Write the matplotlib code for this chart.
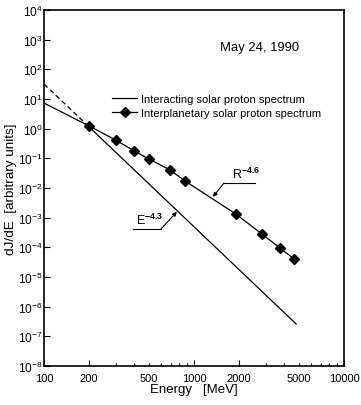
import matplotlib
matplotlib.use("Agg")
import matplotlib.pyplot as plt
from matplotlib.ticker import FixedLocator, FixedFormatter, NullFormatter

plt.rcParams['font.family'] = ['Liberation Sans', 'DejaVu Sans']
plt.rcParams['mathtext.fontset'] = 'custom'
plt.rcParams['mathtext.rm'] = 'Liberation Sans'
plt.rcParams['mathtext.it'] = 'Liberation Sans'
plt.rcParams['mathtext.bf'] = 'Liberation Sans:bold'

# Interplanetary solar proton spectrum (data points)
ip_energy = [200, 300, 400, 500, 690, 870, 1900, 2840, 3740, 4640]
ip_flux = [1.23, 0.416, 0.177, 0.095, 0.041, 0.0173, 1.33e-3, 2.8e-4, 9.5e-5, 4.1e-5]
# fitted curve through them (with extrapolated ends)
ip_line_energy = [100] + ip_energy + [4860]
ip_line_flux = [7.3] + ip_flux + [3.4e-5]

# Interacting solar proton spectrum, E^-4.3 power law
ia_energy_dashed = [100, 200]
ia_flux_dashed = [32, 1.14]
ia_energy_solid = [200, 4800]
ia_flux_solid = [1.14, 2.6e-7]

x_major = [100, 200, 1000, 2000, 10000]
x_minor = [300, 400, 500, 600, 700, 800, 900, 3000, 4000, 5000, 6000, 7000, 8000, 9000]
x_labels_pos = [100, 200, 500, 1000, 2000, 5000, 10000]
x_labels = ['100', '200', '500', '1000', '2000', '5000', '10000']
y_exps = list(range(-8, 5))

fig = plt.figure(figsize=(3.61, 4.06), dpi=100)
ax = fig.add_axes([44/361, 1-367/406, 300/361, 356/406])
ax.set_xscale('log')
ax.set_yscale('log')
ax.set_xlim(100, 10000)
ax.set_ylim(1e-8, 1e4)

lw = 0.9
ax.plot(ia_energy_dashed, ia_flux_dashed, color='black', lw=lw, ls=(0, (4, 2.5)))
ax.plot(ia_energy_solid, ia_flux_solid, color='black', lw=lw,
        label='Interacting solar proton spectrum')
ax.plot(ip_line_energy, ip_line_flux, color='black', lw=lw)
ax.plot(ip_energy, ip_flux, ls='none', marker='D', ms=5.2, color='black')
ax.plot([], [], color='black', lw=lw, marker='D', ms=5.2,
        label='Interplanetary solar proton spectrum')

ax.legend(loc='upper left', bbox_to_anchor=(0.228, 0.765), frameon=False,
          fontsize=8.0, handlelength=2.2, handletextpad=0.35, labelspacing=0.4,
          borderpad=0, borderaxespad=0)

# ticks
ax.xaxis.set_major_locator(FixedLocator(x_major))
ax.xaxis.set_minor_locator(FixedLocator(x_minor))
ax.xaxis.set_major_formatter(NullFormatter())
ax.xaxis.set_minor_formatter(NullFormatter())
ax.tick_params(axis='x', which='major', direction='in', length=4, width=0.8, bottom=True, top=False)
ax.tick_params(axis='x', which='minor', direction='in', length=2.5, width=0.8, bottom=True, top=False)
for xv, xl in zip(x_labels_pos, x_labels):
    ax.text(xv, -0.02, xl, transform=ax.get_xaxis_transform(), ha='center', va='top', fontsize=8)

ax.yaxis.set_major_locator(FixedLocator([10.0**e for e in y_exps]))
ax.yaxis.set_major_formatter(FixedFormatter([r'$10^{%d}$' % e for e in y_exps]))
ax.yaxis.set_minor_locator(FixedLocator([]))
ax.tick_params(axis='y', which='major', direction='in', length=4, width=0.8, left=True, right=False,
               labelsize=8.6, pad=1)

for s in ax.spines.values():
    s.set_linewidth(1.2)

ax.set_xlabel('Energy   [MeV]', fontsize=9.5, labelpad=9)
ax.set_ylabel('dJ/dE  [arbitrary units]', fontsize=9.7, labelpad=1)

ax.text(0.72, 0.895, 'May 24, 1990', transform=ax.transAxes, ha='center', va='center', fontsize=9.4)

# R^-4.6 annotation
ax.plot([0.600, 0.703], [0.514, 0.514], transform=ax.transAxes, color='black', lw=0.8)
ax.annotate('', xy=(0.563, 0.475), xytext=(0.600, 0.514), xycoords='axes fraction',
            textcoords='axes fraction',
            arrowprops=dict(arrowstyle='-|>', color='black', lw=0.8, mutation_scale=6, shrinkA=0, shrinkB=0))
ax.text(0.628, 0.52, r'R$^{\mathbf{-4.6}}$', transform=ax.transAxes, ha='left', va='bottom', fontsize=9)

# E^-4.3 annotation
ax.plot([0.297, 0.390], [0.385, 0.385], transform=ax.transAxes, color='black', lw=0.8)
ax.annotate('', xy=(0.443, 0.433), xytext=(0.390, 0.385), xycoords='axes fraction',
            textcoords='axes fraction',
            arrowprops=dict(arrowstyle='-|>', color='black', lw=0.8, mutation_scale=6, shrinkA=0, shrinkB=0))
ax.text(0.305, 0.39, r'E$^{\mathbf{-4.3}}$', transform=ax.transAxes, ha='left', va='bottom', fontsize=9)

fig.savefig('out.png', dpi=100)
